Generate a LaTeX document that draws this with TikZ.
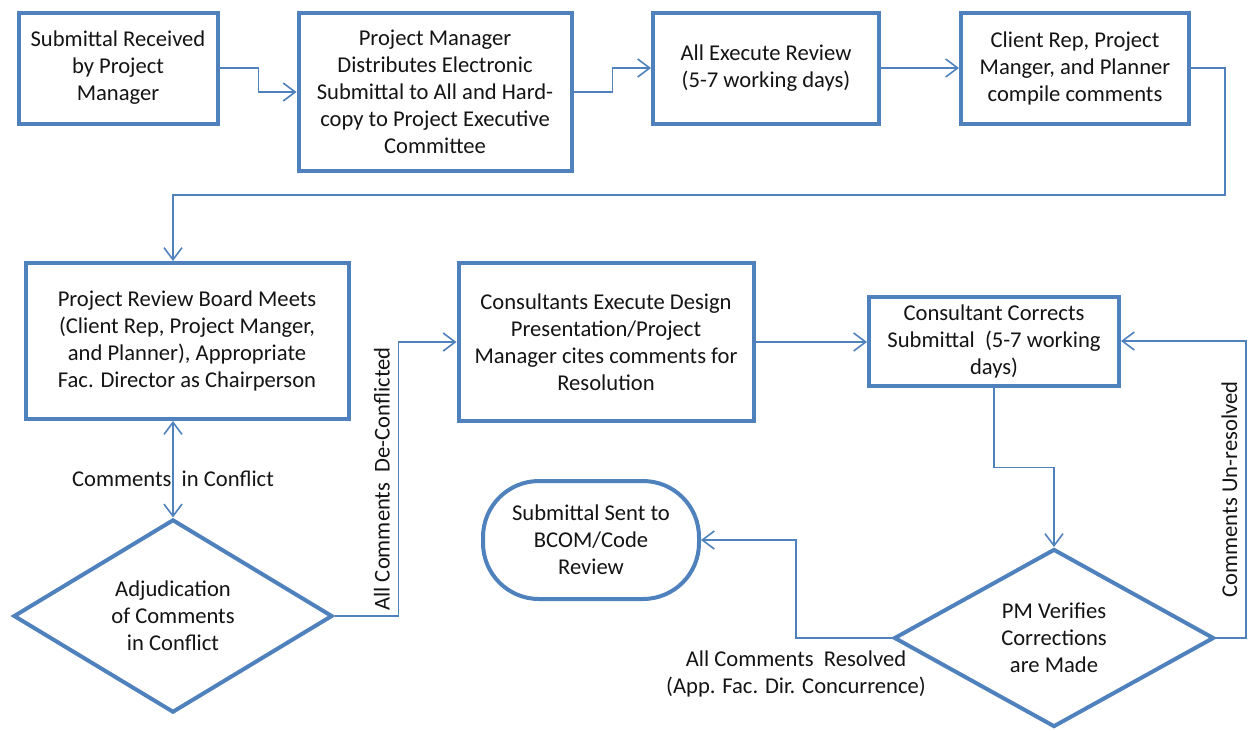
\documentclass[tikz,border=0pt]{standalone}
\usepackage{fontspec}
\setmainfont{Carlito}
\usetikzlibrary{shapes.geometric,arrows.meta}
\definecolor{boxblue}{RGB}{79,129,189}
\definecolor{lineblue}{RGB}{79,129,189}
\definecolor{txt}{RGB}{20,20,20}
\begin{document}
\begin{tikzpicture}[x=0.5pt,y=-0.5pt,
  box/.style={draw=boxblue, line width=2pt, fill=white, align=center, inner sep=2pt,
    text=txt, font=\fontsize{11.3}{13.5}\selectfont},
  dia/.style={box, diamond, inner sep=0pt},
  term/.style={box, rounded corners=28pt},
  conn/.style={draw=lineblue, line width=0.8pt, -{Straight Barb[length=6pt,width=9pt]}},
  lbl/.style={text=txt, font=\fontsize{11.3}{13.5}\selectfont, inner sep=1pt, align=center}]
\useasboundingbox (0,0) rectangle (1248,730);

\node[box, minimum width=99.5pt, minimum height=55.5pt] (n1) at (118,68)
  {Submittal Received\\by Project\\Manager};
\node[box, minimum width=136.5pt, minimum height=79pt] (n2) at (435,92)
  {Project Manager\\Distributes Electronic\\Submittal to All and Hard-\\copy to Project Executive\\Committee};
\node[box, minimum width=113pt, minimum height=55.5pt] (n3) at (766,68)
  {All Execute Review\\(5-7 working days)};
\node[box, minimum width=114pt, minimum height=55.5pt] (n4) at (1075,68)
  {Client Rep, Project\\Manger, and Planner\\compile comments};
\node[box, minimum width=161.5pt, minimum height=78pt] (n5) at (187,341)
  {Project Review Board Meets\\(Client Rep, Project Manger,\\and Planner), Appropriate\\Fac. Director as Chairperson};
\node[box, minimum width=147.5pt, minimum height=79pt] (n6) at (606,342)
  {Consultants Execute Design\\Presentation/Project\\Manager cites comments for\\Resolution};
\node[box, minimum width=125pt, minimum height=44.5pt] (n7) at (994,341)
  {Consultant Corrects\\Submittal\ \ (5-7 working\\days)};
\node[term, minimum width=108pt, minimum height=59pt] (n8) at (591,540)
  {Submittal Sent to\\BCOM/Code\\Review};
\node[dia, minimum width=159.5pt, minimum height=91pt] (d1) at (173,616)
  {Adjudication\\of Comments\\in Conflict};
\node[dia, minimum width=160pt, minimum height=89pt] (d2) at (1054,638)
  {PM Verifies\\Corrections\\are Made};

\coordinate (c1) at (1225,195);

\draw[conn] (n1.east) -- ++(39,0) |- (n2.west);
\draw[conn] (n2.east) -- ++(39,0) |- (n3.west);
\draw[conn] (n3.east) -- (n4.west);
\draw[conn] (n4.east) -| (c1) -| (n5.north -| d1.north);
\draw[conn, {Straight Barb[length=6pt,width=9pt]}-{Straight Barb[length=6pt,width=9pt]}]
  (n5.south -| d1.north) -- (d1.north)
  node[midway, lbl, yshift=-5pt] {Comments\ \ in Conflict};
\draw[conn] (d1.east) -- ++(64,0) |- (n6.west)
  node[pos=0.25, lbl, rotate=90, above=3pt] {All Comments\ \ De-Conflicted};
\draw[conn] (n6.east) -- (n7.west |- n6.east);
\draw[conn] (n7.south) -- ++(0,80) -| (d2.north);
\draw[conn] (d2.east) -- ++(30,0) |- (n7.east)
  node[pos=0.25, lbl, rotate=90, above=3pt] {Comments Un-resolved};
\draw[conn] (d2.west) -- ++(-96,0)
  node[lbl, below=5pt] {All Comments\ \ Resolved\\(App. Fac. Dir. Concurrence)}
  |- (n8.east);
\end{tikzpicture}
\end{document}
